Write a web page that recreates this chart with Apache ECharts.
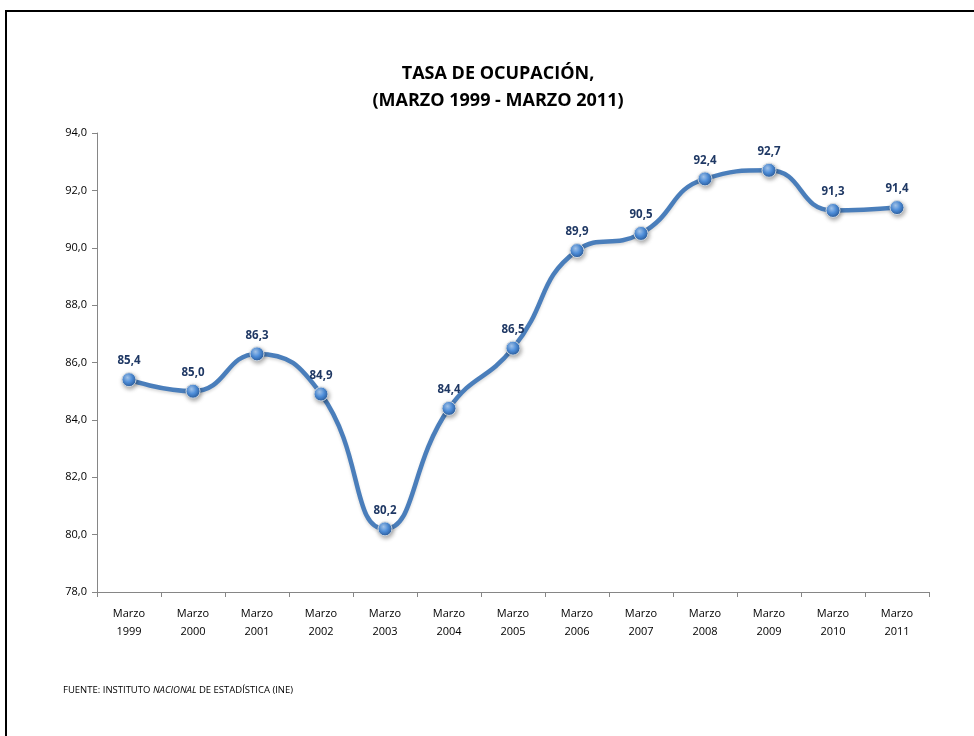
<!DOCTYPE html>
<html>
<head>
<meta charset="utf-8">
<script src="https://cdn.jsdelivr.net/npm/echarts@6/dist/echarts.min.js"></script>
<style>
html,body{margin:0;padding:0;background:#fff;}
#c{width:974px;height:736px;}
</style>
</head>
<body>
<div id="c"></div>
<script>
var categories = ['Marzo\n1999','Marzo\n2000','Marzo\n2001','Marzo\n2002','Marzo\n2003','Marzo\n2004','Marzo\n2005','Marzo\n2006','Marzo\n2007','Marzo\n2008','Marzo\n2009','Marzo\n2010','Marzo\n2011'];
var values = [85.4, 85.0, 86.3, 84.9, 80.2, 84.4, 86.5, 89.9, 90.5, 92.4, 92.7, 91.3, 91.4];
var yTicks = {min: 78, max: 94, interval: 2};
var titleLines = ['TASA DE OCUPACIÓN,', '(MARZO 1999 - MARZO 2011)'];

var chart = echarts.init(document.getElementById('c'));
var font = '"Open Sans", "Liberation Sans", sans-serif';
chart.setOption({
  animation: false,
  backgroundColor: '#fff',
  grid: {left: 97, right: 45, top: 133, bottom: 144},
  xAxis: {
    type: 'category',
    data: categories,
    boundaryGap: true,
    axisLine: {lineStyle: {color: '#868686', width: 1}},
    axisTick: {show: true, length: 5, lineStyle: {color: '#868686'}},
    axisLabel: {fontFamily: font, fontSize: 11, color: '#000', lineHeight: 18, margin: 13}
  },
  yAxis: {
    type: 'value',
    min: yTicks.min, max: yTicks.max, interval: yTicks.interval,
    axisLine: {show: true, lineStyle: {color: '#868686', width: 1}},
    axisTick: {show: true, length: 5, lineStyle: {color: '#868686'}},
    splitLine: {show: false},
    axisLabel: {fontFamily: font, fontSize: 11, color: '#000', margin: 10,
      formatter: function(v){ return v.toFixed(1).replace('.', ','); }}
  },
  series: [{
    type: 'line',
    data: values,
    smooth: 0.5,
    lineStyle: {color: '#4A7EBB', width: 4.5, shadowColor: 'rgba(0,0,0,0.15)', shadowBlur: 3, shadowOffsetY: 2},
    symbol: 'circle',
    symbolSize: 14,
    itemStyle: {
      color: {type: 'radial', x: 0.4, y: 0.35, r: 0.65, colorStops: [
        {offset: 0, color: '#A9CBF2'}, {offset: 0.5, color: '#4F8FDB'}, {offset: 1, color: '#2A5D9E'}]},
      borderColor: '#D0D8E0', borderWidth: 1,
      shadowColor: 'rgba(0,0,0,0.35)', shadowBlur: 4, shadowOffsetX: 1, shadowOffsetY: 2
    },
    label: {
      show: true, position: 'top', distance: 5,
      fontFamily: font, fontSize: 11.5, fontWeight: 'bold', color: '#1F3864',
      formatter: function(p){ return p.value.toFixed(1).replace('.', ','); }
    }
  }],
  graphic: [
    {type: 'line', shape: {x1: 6, y1: 11, x2: 974, y2: 11}, style: {stroke: '#000', lineWidth: 2}},
    {type: 'line', shape: {x1: 6, y1: 10, x2: 6, y2: 736}, style: {stroke: '#000', lineWidth: 2}},
    {type: 'text', x: 498, y: 74, style: {
      text: titleLines[0], textAlign: 'center', textVerticalAlign: 'middle',
      fontFamily: font, fontSize: 18, fontWeight: 'bold', fill: '#000'}},
    {type: 'text', x: 498, y: 101, style: {
      text: titleLines[1], textAlign: 'center', textVerticalAlign: 'middle',
      fontFamily: font, fontSize: 18, fontWeight: 'bold', fill: '#000'}},
    {type: 'text', left: 63, top: 685, style: {
      text: '{n|FUENTE: INSTITUTO }{i|NACIONAL}{n| DE ESTADÍSTICA (INE)}',
      rich: {
        n: {fontFamily: font, fontSize: 9.5, fill: '#000'},
        i: {fontFamily: font, fontSize: 9.5, fontStyle: 'italic', fill: '#000'}
      }
    }}
  ]
});
</script>
</body>
</html>
